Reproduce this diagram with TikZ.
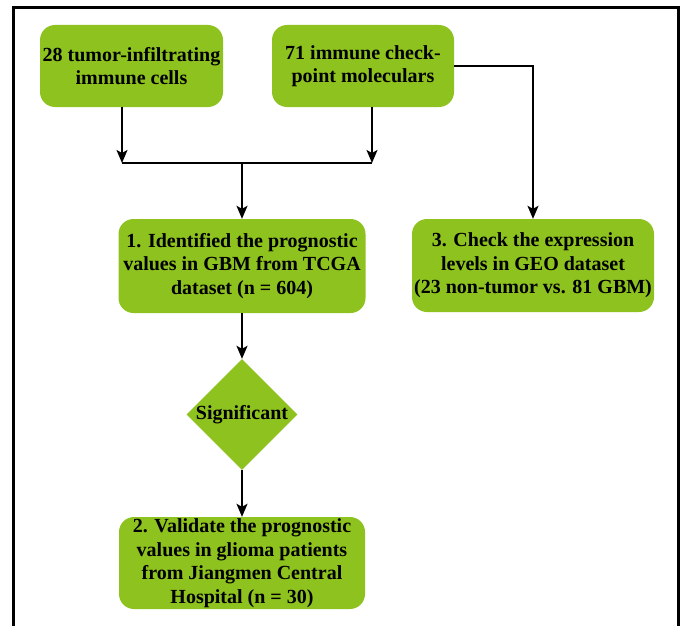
\documentclass[tikz,border=0pt]{standalone}
\usepackage{fontspec}
\setmainfont{Liberation Serif}
\usetikzlibrary{shapes.geometric, arrows.meta}
\definecolor{leaf}{RGB}{141,194,31}

\begin{document}
\begin{tikzpicture}[x=1pt, y=-1pt,
	box/.style = {fill=leaf, rounded corners=15pt, align=center, inner sep=0pt,
		font=\fontsize{20}{23.5}\selectfont\bfseries},
	decision/.style = {diamond, fill=leaf, inner sep=0pt, aspect=1,
		font=\fontsize{20}{23.5}\selectfont\bfseries},
	arr/.style = {-{Stealth[length=13pt, width=11pt, inset=3pt]}, line width=1.6pt}]
	\useasboundingbox (0,0) rectangle (685,626);
	\draw[line width=3pt] (13,626) -- (13,8) -- (678,8) -- (678,626);
	% input boxes
	\node[box, minimum width=183pt, minimum height=82pt] (cells) at (131.5,66) {28 tumor-infiltrating\\immune cells};
	\node[box, minimum width=182pt, minimum height=82pt] (checkpoint) at (363,66) {71 immune check-\\point moleculars};
	% steps
	\node[box, minimum width=247pt, minimum height=94pt] (tcga) at (242,266) {1. Identified the prognostic\\values in GBM from TCGA\\dataset (n = 604)};
	\node[box, minimum width=242pt, minimum height=93pt] (geo) at (533,265.5) {3. Check the expression\\levels in GEO dataset\\(23 non-tumor vs. 81 GBM)};
	\node[decision, minimum width=111pt, minimum height=111pt] (sig) at (242,414.5) {Significant};
	\node[box, minimum width=246pt, minimum height=92pt] (valid) at (242,563) {2. Validate the prognostic\\values in glioma patients\\from Jiangmen Central\\Hospital (n = 30)};
	% merge of the two inputs
	\coordinate (jl) at (122,163);
	\coordinate (jr) at (372,163);
	\coordinate (jm) at (242,163);
	\draw[arr] (cells.south -| jl) -- (jl);
	\draw[arr] (checkpoint.south -| jr) -- (jr);
	\draw[line width=1.6pt] (jl) -- (jr);
	\draw[arr] (jm) -- (tcga.north -| jm);
	\draw[arr] (checkpoint.east) -| (geo.north);
	\draw[arr] (tcga) -- (sig);
	\draw[arr] (sig) -- (valid);
\end{tikzpicture}
\end{document}
